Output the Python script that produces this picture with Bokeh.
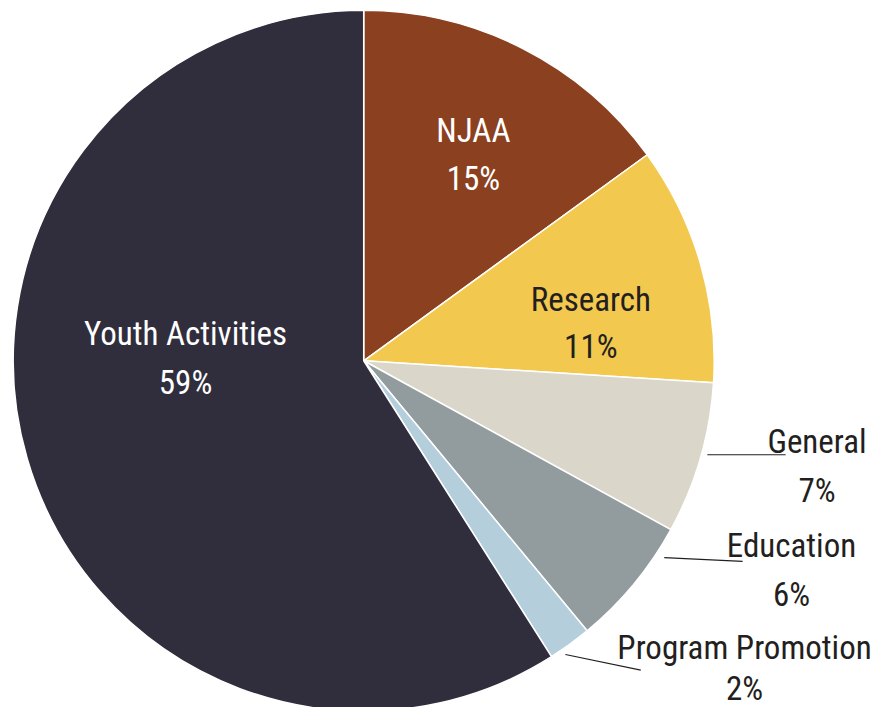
import math
from bokeh.plotting import figure
from bokeh.models import Range1d
from bokeh.core.properties import value
from bokeh.embed import file_html
from bokeh.resources import INLINE

# ---- data ----
categories = ["NJAA", "Research", "General", "Education", "Program Promotion", "Youth Activities"]
shares = [15, 11, 7, 6, 2, 59]
pct_labels = ["15%", "11%", "7%", "6%", "2%", "59%"]

# ---- style ----
colors = ["#8B401F", "#F2C84F", "#DBD6CA", "#929C9E", "#B5CEDC", "#302E3C"]
text_colors = ["#FFFFFF", "#231F20", "#231F20", "#231F20", "#231F20", "#FFFFFF"]
FONT = value("Roboto Condensed")
FS = "33px"

W, H = 878, 707
K = 0.979  # layout scale


def X(sx):
    return K * sx


def Y(sy):
    return H - K * sy


CX, CY, R = X(371), Y(368), K * 358

p = figure(width=W, height=H, output_backend="svg", toolbar_location=None,
           x_range=Range1d(0, W), y_range=Range1d(0, H), min_border=0)
p.axis.visible = False
p.grid.visible = False
p.outline_line_color = None

total = sum(shares)
starts, ends = [], []
cum = 0
for s in shares:
    starts.append(math.pi / 2 - 2 * math.pi * cum / total)
    cum += s
    ends.append(math.pi / 2 - 2 * math.pi * cum / total)

p.wedge(x=[CX] * len(shares), y=[CY] * len(shares), radius=R,
        start_angle=starts, end_angle=ends, direction="clock",
        fill_color=colors, line_color="white", line_width=1.5)

# label layout: centre x, name baseline, pct baseline
label_pos = [
    (483, 133, 182),
    (603, 305, 353),
    (834, 450, 500),
    (808, 557, 607),
    (760, 661, 703),
    (189, 340, 390),
]
for i, (lx, ny, py) in enumerate(label_pos):
    p.text(x=[X(lx)], y=[Y(ny)], text=[categories[i]], text_align="center",
           text_baseline="alphabetic", text_font=FONT, text_font_size=FS,
           text_color=text_colors[i])
    p.text(x=[X(lx)], y=[Y(py)], text=[pct_labels[i]], text_align="center",
           text_baseline="alphabetic", text_font=FONT, text_font_size=FS,
           text_color=text_colors[i])

# leader lines for outside labels
leaders = [
    ((722, 802), (464, 464)),
    ((678, 758), (569, 573)),
    ((577, 654), (668, 684)),
]
for xs, ys in leaders:
    p.line(x=[X(v) for v in xs], y=[Y(v) for v in ys], line_color="#231F20", line_width=1.2)

open("out.html", "w").write(file_html(p, INLINE))
